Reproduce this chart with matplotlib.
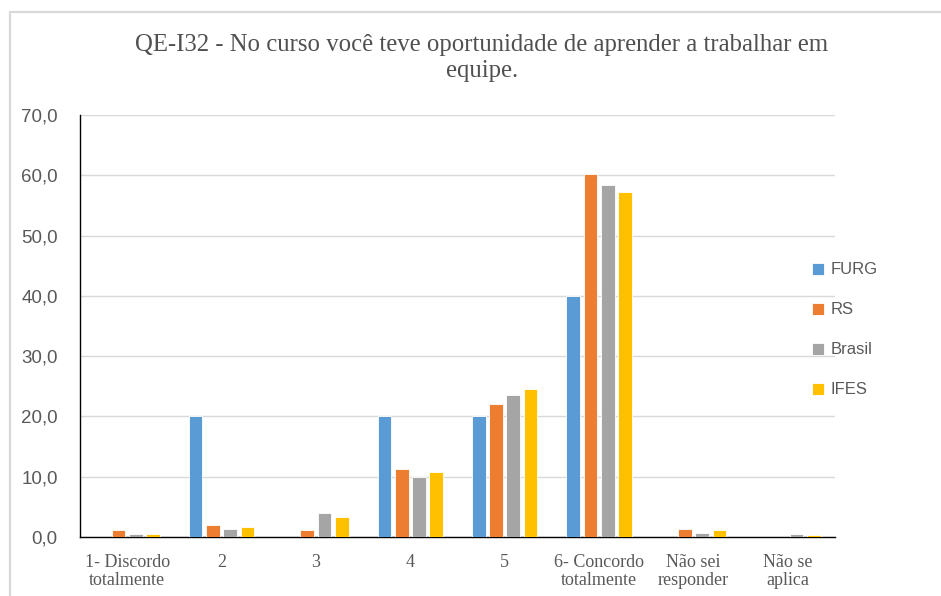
import matplotlib
matplotlib.use("Agg")
import matplotlib.pyplot as plt
import numpy as np
from matplotlib.patches import Rectangle

categories = ["1- Discordo\ntotalmente", "2", "3", "4", "5",
              "6- Concordo\ntotalmente", "Não sei\nresponder", "Não se\naplica"]
series_names = ["FURG", "RS", "Brasil", "IFES"]
furg = [0.0, 20.0, 0.0, 20.0, 20.0, 40.0, 0.0, 0.0]
rs = [1.2, 2.0, 1.2, 11.3, 22.1, 60.2, 1.3, 0.0]
brasil = [0.5, 1.4, 4.0, 10.0, 23.6, 58.4, 0.7, 0.5]
ifes = [0.5, 1.7, 3.4, 10.7, 24.6, 57.2, 1.1, 0.3]
yticks = [0, 10, 20, 30, 40, 50, 60, 70]
colors = ["#5B9BD5", "#ED7D31", "#A5A5A5", "#FFC000"]

W, H = 941, 596
fig = plt.figure(figsize=(W / 100, H / 100), dpi=100)
fig.patch.set_facecolor("white")

# chart border
fig.add_artist(Rectangle((10 / W, -0.1), 1.2, 1 - 12 / H + 0.1, transform=fig.transFigure,
                         fill=False, edgecolor="#d9d9d9", linewidth=1.6))

ax = fig.add_axes([80 / W, 1 - 537 / H, (835 - 80) / W, (537 - 115) / H])
x = np.arange(len(categories))
stride = 0.183
width = 0.145
for i, (name, vals) in enumerate(zip(series_names, [furg, rs, brasil, ifes])):
    ax.bar(x + (i - 1.5) * stride, vals, width, color=colors[i], label=name,
           edgecolor="white", linewidth=0.6, zorder=3)

ax.set_xlim(-0.5, len(categories) - 0.5)
ax.set_ylim(0, 70)
ax.set_yticks(yticks)
ax.set_yticklabels([f"{v:.1f}".replace(".", ",") for v in yticks],
                   fontsize=13.5, color="#595959", family="Liberation Sans")
ax.set_xticks(x)
ax.set_xticklabels(categories, fontsize=13, color="#595959", family="Liberation Serif",
                   linespacing=1.1, va="top")
ax.tick_params(axis="both", length=0)
ax.tick_params(axis="x", pad=12)
ax.tick_params(axis="y", pad=16)
ax.grid(axis="y", color="#d9d9d9", linewidth=1.0, zorder=0)
for s in ["top", "right"]:
    ax.spines[s].set_visible(False)
ax.spines["left"].set_color("#000000")
ax.spines["left"].set_linewidth(1.0)
ax.spines["bottom"].set_color("#000000")
ax.spines["bottom"].set_linewidth(1.0)

fig.text(482 / W, 1 - 58 / H,
         "QE-I32 - No curso você teve oportunidade de aprender a trabalhar em\nequipe.",
         ha="center", va="center", fontsize=17.8, color="#505050",
         family="Liberation Serif", linespacing=1.2)

leg = fig.legend(loc="center left", bbox_to_anchor=(797 / W, 1 - 330 / H), frameon=False,
                 prop={"family": "Liberation Sans", "size": 12},
                 handlelength=0.7, handleheight=0.7, handletextpad=0.4, labelspacing=1.5)
for t in leg.get_texts():
    t.set_color("#595959")

fig.savefig("out.png", dpi=100, facecolor="white")
